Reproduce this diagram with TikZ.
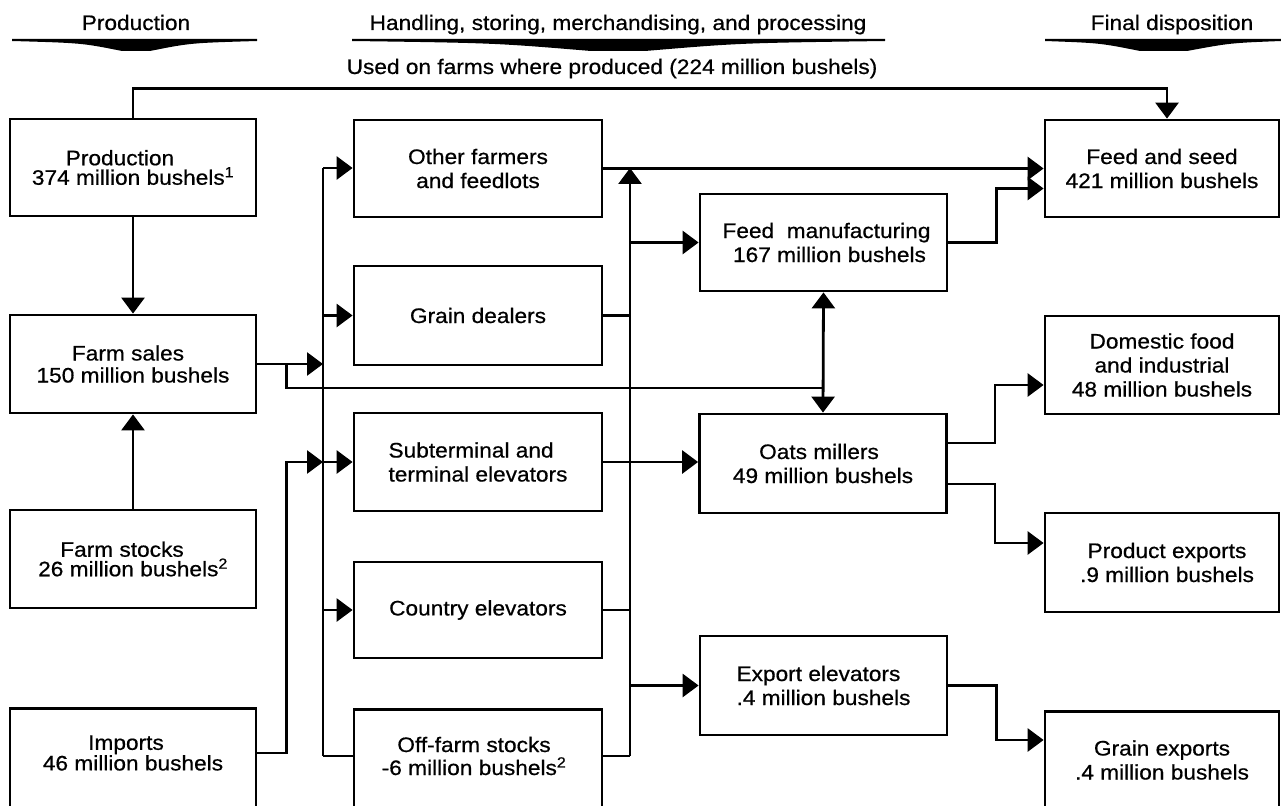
\documentclass[tikz,border=0pt]{standalone}
\usepackage{fontspec}
\setmainfont{Liberation Sans}[FakeStretch=1.08,FakeBold=0.6]
\usetikzlibrary{arrows.meta,calc}
\begin{document}
\begin{tikzpicture}[x=1pt,y=-1pt,
  conn/.style={line width=2.8pt},
  arr/.style={conn,-{Triangle[length=16pt,width=23pt]}},
  arr2/.style={conn,{Triangle[length=16pt,width=23pt]}-{Triangle[length=16pt,width=23pt]}},
  box/.style={draw,line width=2.8pt,inner sep=0pt,align=center,font=\fontsize{21}{24}\selectfont},
  lbox/.style={box,minimum width=246,font=\fontsize{21}{19.5}\selectfont},
  mbox/.style={box,minimum width=248},
  pbox/.style={box,minimum width=247},
  rbox/.style={box,minimum width=234},
  txt/.style={inner sep=0pt,align=center,font=\fontsize{21}{24}\selectfont},
  ltxt/.style={txt,font=\fontsize{21}{19.5}\selectfont},
  hdr/.style={inner sep=0pt,anchor=base,font=\fontsize{21}{24}\selectfont},
  chev/.style={fill=black}]
\path[use as bounding box] (0,0) rectangle (1281,805);
\clip (0,0) rectangle (1281,805);

% headers
\node[hdr] (hprod) at (136,30) {Production};
\node[hdr] (hmid) at (618,30) {Handling, storing, merchandising, and processing};
\node[hdr] (hfin) at (1172,30) {Final disposition};
\node[hdr] (hused) at (612,74) {Used on farms where produced (224 million bushels)};
\fill[chev] (12,39) -- (257,39) -- (257,41) .. controls (190,43) .. (150,51) -- (122,51) .. controls (82,43) .. (12,41) -- cycle;
\fill[chev] (352,39) -- (885,39) -- (885,41) .. controls (740,43) .. (645,51) -- (591,51) .. controls (495,43) .. (352,41) -- cycle;
\fill[chev] (1045,39) -- (1281,39) -- (1281,41) .. controls (1230,43) .. (1187,51) -- (1140,51) .. controls (1100,43) .. (1045,41) -- cycle;

% left column
\node[lbox,minimum height=97] (prod) at (133,167.5) {Production\hspace*{26pt}\\374 million bushels\textsuperscript{1}};
\node[lbox,minimum height=98,font=\fontsize{21}{22}\selectfont] (sales) at (133,364) {Farm sales\hspace*{10pt}\\150 million bushels};
\node[lbox,minimum height=98] (stocks) at (133,559) {Farm stocks\hspace*{22pt}\\26 million bushels\textsuperscript{2}};
\node[lbox,minimum height=140,anchor=north] (imports) at (133,707) {};
\node[ltxt,font=\fontsize{21}{18.5}\selectfont] (importsT) at (133,753) {Imports\hspace*{14pt}\\46 million bushels};

% middle column
\node[mbox,minimum height=97] (other) at (478,168.5) {Other farmers\\and feedlots};
\node[mbox,minimum height=99] (grain) at (478,315.5) {Grain dealers};
\node[mbox,minimum height=98,align=left] (subterm) at (478,462) {Subterminal and\\terminal elevators};
\node[mbox,minimum height=96] (country) at (478,610) {Country elevators};
\node[mbox,minimum height=140,anchor=north] (offfarm) at (478,708) {};
\node[txt,font=\fontsize{21}{23}\selectfont] (offfarmT) at (474,756) {Off-farm stocks\\-6 million bushels\textsuperscript{2}};

% processing column
\node[pbox,minimum height=97] (feedmfg) at (823.5,242.5) {\hspace*{6pt}Feed\ \ manufacturing\\\hspace*{12pt}167 million bushels};
\node[pbox,minimum height=99] (oats) at (823,463.5) {Oats millers\hspace*{8pt}\\49 million bushels};
\node[pbox,minimum height=99,align=left] (export) at (823.5,685.5) {Export elevators\\.4 million bushels};

% final disposition column
\node[rbox,minimum height=97] (feedseed) at (1162,168.5) {Feed and seed\\421 million bushels};
\node[rbox,minimum height=98] (domestic) at (1162,365) {Domestic food\\and industrial\\48 million bushels};
\node[rbox,minimum height=99] (prodexp) at (1162,562.5) {\hspace*{10pt}Product exports\\\hspace*{10pt}.9 million bushels};
\node[rbox,minimum height=140,anchor=north] (grainexp) at (1162,710) {};
\node[txt] (grainexpT) at (1162,760) {Grain exports\\.4 million bushels};

% bus coordinates
\coordinate (bLt) at (323,168);
\coordinate (bLb) at (323,756);
\coordinate (bRt) at (630,168);
\coordinate (bRb) at (630,756);
\coordinate (jn) at (823,388);

% production flows
\draw[arr] (prod.north) -- ++(0,-29) -| ($(feedseed.north)+(5,0)$);
\draw[arr] (prod) -- (sales);
\draw[arr] (stocks) -- (sales);
\draw[arr] (sales.east) -- (sales.east -| bLt);
\draw[conn] ($(sales.east)+(29,0)$) |- (jn);
\draw[arr] (importsT -| imports.east) -- ++(29,0) |- (bLt |- subterm.west);

% left bus
\draw[conn] (bLt) -- (bLb);
\draw[arr] (bLt) -- (bLt -| other.west);
\draw[arr] (bLt |- grain.west) -- (grain.west);
\draw[arr] (bLt |- subterm.west) -- (subterm.west);
\draw[arr] (bLt |- country.west) -- (country.west);
\draw[conn] (bLb) -- (bLb -| offfarm.west);

% right bus
\draw[arr] (bRb) -- (bRt);
\draw[arr] (other.east) -- (other.east -| feedseed.west);
\draw[conn] (grain.east) -- (grain.east -| bRt);
\draw[conn] (country.east) -- (country.east -| bRt);
\draw[conn] (bRb -| offfarm.east) -- (bRb);
\draw[arr] (subterm.east) -- (subterm.east -| oats.west);
\draw[arr] (bRt |- feedmfg.west) -- (feedmfg.west);
\draw[arr] (bRt |- export.west) -- (export.west);

% processing outputs
\draw[arr2] (feedmfg.south) -- (oats.north);
\draw[arr] (feedmfg.east) -- ++(48,0) |- ($(feedseed.west)+(0,20)$);
\draw[arr] ($(oats.east)+(0,-20.5)$) -- ++(47,0) |- ($(domestic.west)+(0,20)$);
\draw[arr] ($(oats.east)+(0,20.5)$) -- ++(47,0) |- ($(prodexp.west)+(0,-19.5)$);
\draw[arr] (export.east) -- ++(48,0) |- ($(grainexp.north west)+(0,30)$);
\end{tikzpicture}
\end{document}
